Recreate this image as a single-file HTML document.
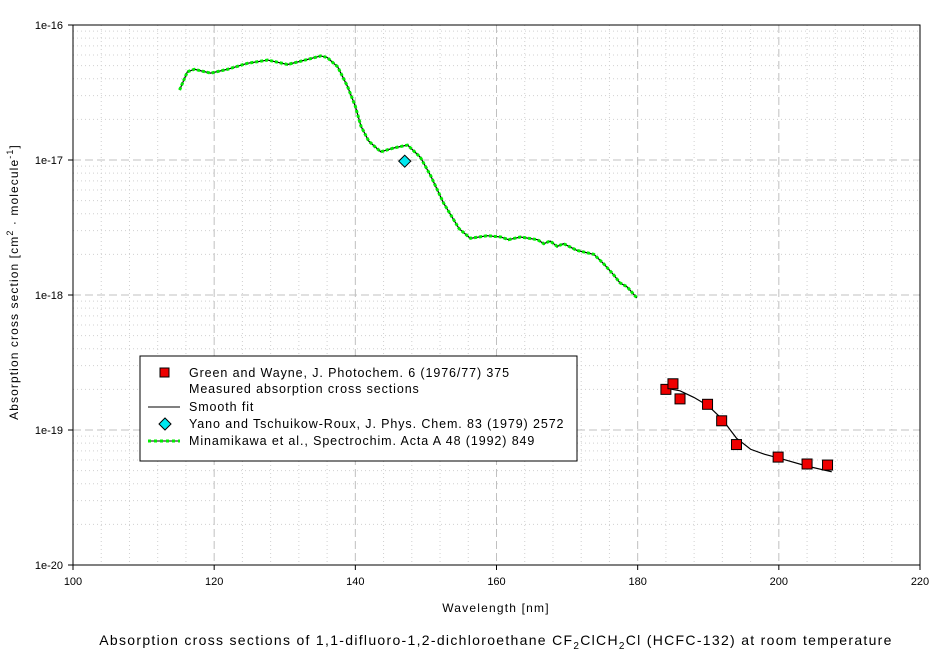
<!DOCTYPE html>
<html><head><meta charset="utf-8"><style>
body{margin:0;background:#fff;}
svg text{font-family:"Liberation Sans",sans-serif;}
</style></head><body>
<svg id="chart" width="944" height="659" xmlns="http://www.w3.org/2000/svg"></svg>
<script>
const minaWl=[115.1,116.2,117.2,119.5,121.9,124.7,127.6,130.4,132.3,135.1,136.0,137.5,138.9,140.0,140.8,141.9,143.6,145.5,147.4,149.2,150.7,152.5,154.7,156.3,158.7,160.6,161.7,163.4,165.8,166.7,167.6,168.6,169.5,171.4,173.8,175.2,176.6,177.5,178.5,179.9];
const minaVal=[3.3e-17,4.5e-17,4.7e-17,4.4e-17,4.7e-17,5.2e-17,5.5e-17,5.1e-17,5.4e-17,5.9e-17,5.75e-17,4.9e-17,3.5e-17,2.5e-17,1.78e-17,1.38e-17,1.15e-17,1.23e-17,1.29e-17,1.05e-17,7.6e-18,4.8e-18,3.1e-18,2.63e-18,2.75e-18,2.69e-18,2.57e-18,2.69e-18,2.57e-18,2.4e-18,2.51e-18,2.29e-18,2.4e-18,2.14e-18,2.0e-18,1.7e-18,1.41e-18,1.23e-18,1.15e-18,9.5e-19];
const yanoWl=[147.0];
const yanoVal=[9.8e-18];
const greenWl=[184.0,185.0,186.0,189.9,191.9,194.0,199.9,204.0,206.9];
const greenVal=[2.0e-19,2.2e-19,1.7e-19,1.55e-19,1.17e-19,7.8e-20,6.3e-20,5.6e-20,5.5e-20];
const fitWl=[183.3,184,186,188,190,192,193,194,196,198,200,204,207.5];
const fitVal=[2.05e-19,2.04e-19,1.95e-19,1.74e-19,1.51e-19,1.2e-19,1.02e-19,8.7e-20,7.2e-20,6.6e-20,6.2e-20,5.4e-20,4.9e-20];
const xTicks=[100,120,140,160,180,200,220];
const yTicks=[-16,-17,-18,-19,-20];

const NS="http://www.w3.org/2000/svg";
const svg=document.getElementById('chart');
const L=73,R=920,T=25,B=565;
const sx=v=>L+(v-100)/120*(R-L);
const sy=v=>T+(-16-Math.log10(v))/4*(B-T);
const syl=l=>T+(-16-l)/4*(B-T);
function el(tag,a,parent){const e=document.createElementNS(NS,tag);for(const k in a)e.setAttribute(k,a[k]);(parent||svg).appendChild(e);return e;}

const grid=el('g',{});


for(let v=104;v<220;v+=4){const x=sx(v);const major=(v%20===0);
 el('line',{x1:x,x2:x,y1:T,y2:B,stroke:major?'#c0c0c0':'#d0d0d0','stroke-dasharray':major?'8,4':'1,3'},grid);}
for(let d=-20;d<-16;d++){for(let m=1;m<10;m++){const y=syl(d+Math.log10(m));
 el('line',{x1:L,x2:R,y1:y,y2:y,stroke:m===1?'#c0c0c0':'#d0d0d0','stroke-dasharray':m===1?'8,4':'1,3'},grid);}}

const frame=el('rect',{x:L,y:T,width:R-L,height:B-T,fill:'none',stroke:'#000'});



const xax=el('g',{});


xTicks.forEach(v=>{const x=sx(v);el('line',{x1:x,x2:x,y1:B,y2:B+5,stroke:'#000'},xax);
 const t=el('text',{x:x,y:B+20,'font-size':11,'text-anchor':'middle'},xax);t.textContent=v;
 
 });
const yax=el('g',{});


yTicks.forEach(l=>{const y=syl(l);el('line',{x1:L-5,x2:L,y1:y,y2:y,stroke:'#000'},yax);
 const t=el('text',{x:L-10,y:y+4,'font-size':11,'text-anchor':'end'},yax);t.textContent='1e'+l;
 
 });

const xt=el('text',{x:496,y:612,'font-size':12,'text-anchor':'middle','letter-spacing':1.2});
xt.textContent='Wavelength [nm]';


const yt=el('text',{x:0,y:0,'font-size':12,'text-anchor':'middle','letter-spacing':1.1,transform:'translate(18,282) rotate(-90)'});
yt.innerHTML='Absorption cross section [cm<tspan dy="-5" font-size="9">2</tspan><tspan dy="5"> · molecule</tspan><tspan dy="-5" font-size="9">-1</tspan><tspan dy="5">]</tspan>';


const ct=el('text',{x:496,y:645,'font-size':14,'text-anchor':'middle','letter-spacing':1.3});
ct.innerHTML='Absorption cross sections of 1,1-difluoro-1,2-dichloroethane CF<tspan dy="4" font-size="10">2</tspan><tspan dy="-4">ClCH</tspan><tspan dy="4" font-size="10">2</tspan><tspan dy="-4">Cl (HCFC-132) at room temperature</tspan>';



const mp=minaWl.map((w,i)=>sx(w)+','+sy(minaVal[i])).join(' ');
const ml=el('polyline',{points:mp,fill:'none',stroke:'#000','stroke-width':1.2});


const mg=el('polyline',{points:mp,fill:'none',stroke:'#00ee00','stroke-width':3,'stroke-dasharray':'3,2'});



const fl=el('polyline',{points:fitWl.map((w,i)=>sx(w)+','+sy(fitVal[i])).join(' '),fill:'none',stroke:'#000','stroke-width':1.2});



greenWl.forEach((w,i)=>{const x=sx(w),y=sy(greenVal[i]);
 const r=el('rect',{x:x-5,y:y-5,width:10,height:10,fill:'#ee0000',stroke:'#000'});
 
 });
yanoWl.forEach((w,i)=>{const x=sx(w),y=sy(yanoVal[i]);
 const p=el('polygon',{points:`${x},${y-6} ${x+6},${y} ${x},${y+6} ${x-6},${y}`,fill:'#00e8f0',stroke:'#000'});
 
 });

const lg=el('g',{});


el('rect',{x:140,y:356,width:437,height:105,fill:'#fff',stroke:'#000'},lg);
el('rect',{x:160,y:368,width:9,height:9,fill:'#ee0000',stroke:'#000'},lg);
el('line',{x1:148,x2:180,y1:407,y2:407,stroke:'#000'},lg);
el('polygon',{points:'165,418 171,424 165,430 159,424',fill:'#00e8f0',stroke:'#000'},lg);
el('line',{x1:148,x2:180,y1:441,y2:441,stroke:'#000'},lg);
el('line',{x1:148,x2:180,y1:441,y2:441,stroke:'#00ee00','stroke-width':3,'stroke-dasharray':'3,3'},lg);
const lt=[['Green and Wayne, J. Photochem. 6 (1976/77) 375',377],['Measured absorption cross sections',393],['Smooth fit',411],['Yano and Tschuikow-Roux, J. Phys. Chem. 83 (1979) 2572',428],['Minamikawa et al., Spectrochim. Acta A 48 (1992) 849',445]];
lt.forEach(([s,y])=>{const t=el('text',{x:189,y:y,'font-size':12.5,'letter-spacing':0.9},lg);t.textContent=s;
 
 });
</script>
</body></html>
